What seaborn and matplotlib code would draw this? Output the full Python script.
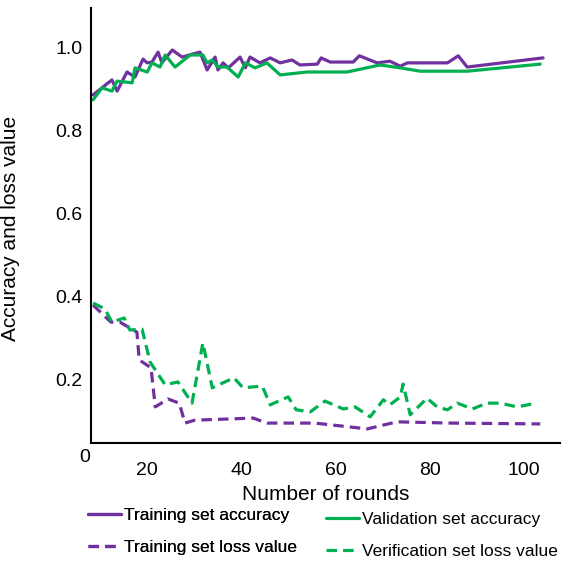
import numpy as np
import pandas as pd
import matplotlib
matplotlib.use("Agg")
import matplotlib.pyplot as plt
import seaborn as sns

sns.set_theme(style="white")
plt.rcParams['font.family'] = ['Liberation Sans', 'DejaVu Sans']
plt.rcParams['text.color'] = 'black'
plt.rcParams['axes.labelcolor'] = 'black'

# ---- data ----
train_acc_x = [8.5, 12.5, 13.6, 15.7, 17.4, 19.1, 20.0, 21.0, 22.3, 23.1, 25.3, 27.4, 31.2, 32.7,
               34.4, 35.0, 36.1, 37.2, 39.7, 40.8, 41.8, 43.9, 46.1, 48.2, 50.7, 52.4, 56.1, 56.9,
               58.8, 63.7, 65.0, 68.8, 71.5, 73.7, 75.2, 83.7, 86.0, 87.9, 104.0]
train_acc_y = [0.886, 0.922, 0.895, 0.941, 0.929, 0.972, 0.963, 0.965, 0.989, 0.963, 0.994, 0.977,
               0.989, 0.946, 0.977, 0.946, 0.963, 0.951, 0.977, 0.951, 0.977, 0.963, 0.975, 0.963,
               0.970, 0.958, 0.960, 0.975, 0.965, 0.965, 0.980, 0.963, 0.967, 0.955, 0.963, 0.963,
               0.980, 0.953, 0.975]

val_acc_x = [8.5, 10.4, 12.5, 13.6, 16.8, 17.4, 20.0, 21.0, 22.7, 23.8, 25.9, 29.1, 31.8, 32.7,
             33.8, 35.0, 36.9, 39.3, 40.8, 42.9, 45.4, 48.2, 53.9, 62.4, 69.4, 73.7, 77.9, 87.9, 103.4]
val_acc_y = [0.874, 0.903, 0.895, 0.919, 0.915, 0.951, 0.941, 0.963, 0.953, 0.982, 0.953, 0.982,
             0.982, 0.963, 0.970, 0.953, 0.953, 0.929, 0.963, 0.951, 0.963, 0.934, 0.941, 0.941,
             0.958, 0.951, 0.943, 0.943, 0.960]

train_loss_x = [8.5, 12.3, 14.2, 17.8, 18.3, 20.8, 21.7, 24.4, 26.8, 28.0, 30.1, 42.5, 45.4,
                55.6, 66.7, 73.0, 84.3, 103.4]
train_loss_y = [0.380, 0.339, 0.339, 0.315, 0.248, 0.229, 0.135, 0.154, 0.144, 0.096, 0.103,
                0.108, 0.096, 0.096, 0.082, 0.099, 0.096, 0.094]

val_loss_x = [8.5, 11.0, 12.5, 15.1, 16.3, 18.9, 20.6, 23.8, 26.5, 29.5, 31.8, 33.8, 38.4, 40.3,
              44.4, 46.1, 49.9, 51.6, 54.6, 57.7, 61.6, 64.1, 67.3, 70.1, 71.5, 73.7, 74.3, 75.8,
              79.4, 81.5, 83.7, 85.8, 89.0, 92.1, 94.9, 98.5, 101.7]
val_loss_y = [0.385, 0.371, 0.339, 0.349, 0.320, 0.322, 0.243, 0.188, 0.195, 0.144, 0.289, 0.181,
              0.205, 0.181, 0.185, 0.140, 0.159, 0.128, 0.123, 0.149, 0.130, 0.135, 0.111, 0.152,
              0.140, 0.159, 0.190, 0.116, 0.156, 0.135, 0.128, 0.144, 0.130, 0.144, 0.144, 0.135,
              0.142]

labels = ["Training set accuracy", "Training set loss value",
          "Validation set accuracy", "Verification set loss value"]
x_ticks = [20, 40, 60, 80, 100]
y_ticks = [0.2, 0.4, 0.6, 0.8, 1.0]

PURPLE = "#7030A0"
GREEN = "#00B050"

fig = plt.figure(figsize=(5.62, 5.62), dpi=100)
ax = fig.add_axes([0.162, 0.2117, 0.8345, 0.774])

lw = 2.3
dash = (3.3, 1.9)
sns.lineplot(x=train_acc_x, y=train_acc_y, ax=ax, color=PURPLE, lw=lw, sort=False,
             estimator=None, label=labels[0])
sns.lineplot(x=train_loss_x, y=train_loss_y, ax=ax, color=PURPLE, lw=lw, sort=False,
             estimator=None, label=labels[1])
sns.lineplot(x=val_acc_x, y=val_acc_y, ax=ax, color=GREEN, lw=lw, sort=False,
             estimator=None, label=labels[2])
sns.lineplot(x=val_loss_x, y=val_loss_y, ax=ax, color=GREEN, lw=lw, sort=False,
             estimator=None, label=labels[3])
ax.lines[1].set_dashes(dash)
ax.lines[3].set_dashes(dash)

ax.set_xlim(8.07, 107.6)
ax.set_ylim(0.048, 1.095)
ax.set_xticks(x_ticks)
ax.set_xticklabels([str(t) for t in x_ticks])
ax.set_yticks(y_ticks)
ax.set_yticklabels([f"{t:.1f}" for t in y_ticks])
ax.tick_params(axis='both', length=0, labelsize=14, colors='black')
ax.tick_params(axis='x', pad=14)
ax.tick_params(axis='y', pad=6)

for s in ['top', 'right']:
    ax.spines[s].set_visible(False)
for s in ['left', 'bottom']:
    ax.spines[s].set_color('black')
    ax.spines[s].set_linewidth(1.5)

ax.text(-0.013, -0.034, "0", transform=ax.transAxes, ha='center', va='center', fontsize=14)

ax.set_xlabel("Number of rounds", fontsize=15, labelpad=4)
ax.set_ylabel("Accuracy and loss value", fontsize=15)
ax.yaxis.set_label_coords(-0.151, 0.494)

ax.get_legend().remove()
h = ax.lines[:4]
common = dict(frameon=False, fontsize=12.5, handlelength=1.9, handletextpad=0.15,
              labelspacing=0.95, borderpad=0, borderaxespad=0, loc='upper left')
leg1 = fig.legend([h[0], h[1]], labels[:2], bbox_to_anchor=(88 / 562, 1 - 508 / 562), **common)
fig.add_artist(leg1)
leg2 = fig.legend([h[2], h[3]], labels[2:], bbox_to_anchor=(326 / 562, 1 - 512 / 562), **common)

fig.savefig("out.png", dpi=100)
